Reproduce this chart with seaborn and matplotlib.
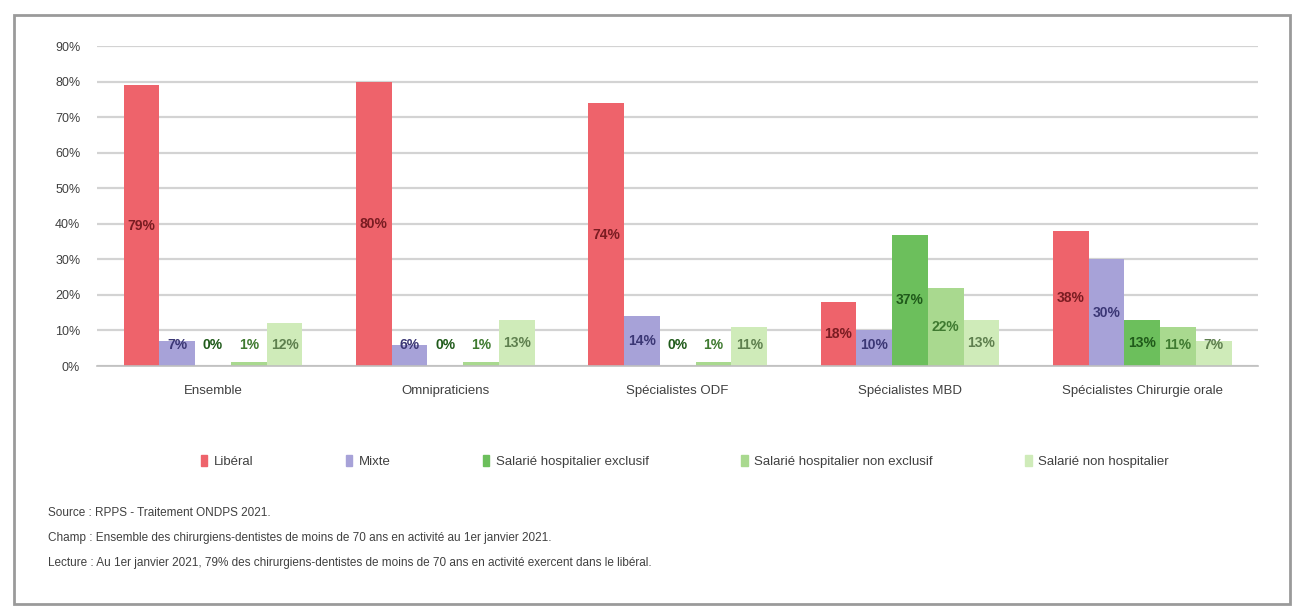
import matplotlib
matplotlib.use("Agg")
import matplotlib.pyplot as plt
import matplotlib.patches as mpatches
import seaborn as sns
import pandas as pd

categories = ["Ensemble", "Omnipraticiens", "Spécialistes ODF",
              "Spécialistes MBD", "Spécialistes Chirurgie orale"]
statuts = ["Libéral", "Mixte", "Salarié hospitalier exclusif",
           "Salarié hospitalier non exclusif", "Salarié non hospitalier"]

liberal = [79, 80, 74, 18, 38]
mixte = [7, 6, 14, 10, 30]
sal_hosp_excl = [0, 0, 0, 37, 13]
sal_hosp_non_excl = [1, 1, 1, 22, 11]
sal_non_hosp = [12, 13, 11, 13, 7]

y_ticks = [0, 10, 20, 30, 40, 50, 60, 70, 80, 90]

footnotes = [
    "Source : RPPS - Traitement ONDPS 2021.",
    "Champ : Ensemble des chirurgiens-dentistes de moins de 70 ans en activité au 1er janvier 2021.",
    "Lecture : Au 1er janvier 2021, 79% des chirurgiens-dentistes de moins de 70 ans en activité exercent dans le libéral.",
]

bar_colors = ["#EE636B", "#A7A2D8", "#6CBF5C", "#A9D98F", "#CFEBB9"]
label_colors = ["#7A1C22", "#3B3775", "#1F5A1A", "#3F7A30", "#5E7F4E"]

series = [liberal, mixte, sal_hosp_excl, sal_hosp_non_excl, sal_non_hosp]
df = pd.DataFrame(
    [(c, s, vals[i]) for s, vals in zip(statuts, series) for i, c in enumerate(categories)],
    columns=["categorie", "statut", "valeur"],
)

sns.set_theme(style="white")
plt.rcParams["font.family"] = ["Liberation Sans Narrow", "Liberation Sans", "DejaVu Sans"]

fig = plt.figure(figsize=(12.92, 6.07), dpi=100)
ax = fig.add_axes([0.075, 0.397, 0.899, 0.527])

sns.barplot(data=df, x="categorie", y="valeur", hue="statut",
            order=categories, hue_order=statuts,
            palette=bar_colors, saturation=1, width=0.77,
            edgecolor="none", ax=ax)

ax.set_ylim(0, 90)
ax.set_xlim(-0.5, len(categories) - 0.5)
ax.set_yticks(y_ticks)
ax.set_yticklabels([f"{t}%" for t in y_ticks], fontsize=9, color="#404040")
ax.tick_params(axis="x", labelsize=9.5, colors="#404040", pad=14, length=0)
ax.tick_params(axis="y", length=0, pad=12)
ax.set_xlabel("")
ax.set_ylabel("")
ax.set_axisbelow(True)
ax.yaxis.grid(True, color="#D3D3D3", linewidth=1.6)
for side in ["top", "right", "left"]:
    ax.spines[side].set_visible(False)
ax.spines["bottom"].set_color("#BFBFBF")
ax.spines["bottom"].set_linewidth(1.2)

# value labels, centred in each bar and kept clear of the baseline
for s_idx, (container, vals) in enumerate(zip(ax.containers, series)):
    for patch, v in zip(container.patches, vals):
        x = patch.get_x() + patch.get_width() / 2
        y = max(v / 2, 6)
        ax.text(x, y, f"{v}%", ha="center", va="center",
                fontsize=10, fontweight="bold", color=label_colors[s_idx])

ax.legend_.remove()
handles = [mpatches.Patch(color=c, label=s) for c, s in zip(bar_colors, statuts)]
fig.legend(handles=handles, loc="center", ncol=5, mode="expand",
           bbox_to_anchor=(0.146, 0.225, 0.768, 0.03), frameon=False,
           fontsize=9.5, handlelength=0.5, handleheight=0.9, handletextpad=0.5,
           labelcolor="#404040")

for i, line in enumerate(footnotes):
    fig.text(0.037, 1 - (513 + 25 * i) / 607, line, fontsize=8.5,
             color="#404040", va="center", ha="left")

# frame around the chart
frame = mpatches.Rectangle((14 / 1292, 1 - 604 / 607), (1290 - 14) / 1292, (604 - 15) / 607,
                           transform=fig.transFigure, fill=False,
                           edgecolor="#9A9A9A", linewidth=2.0)
fig.add_artist(frame)

fig.savefig("out.png", dpi=100)
